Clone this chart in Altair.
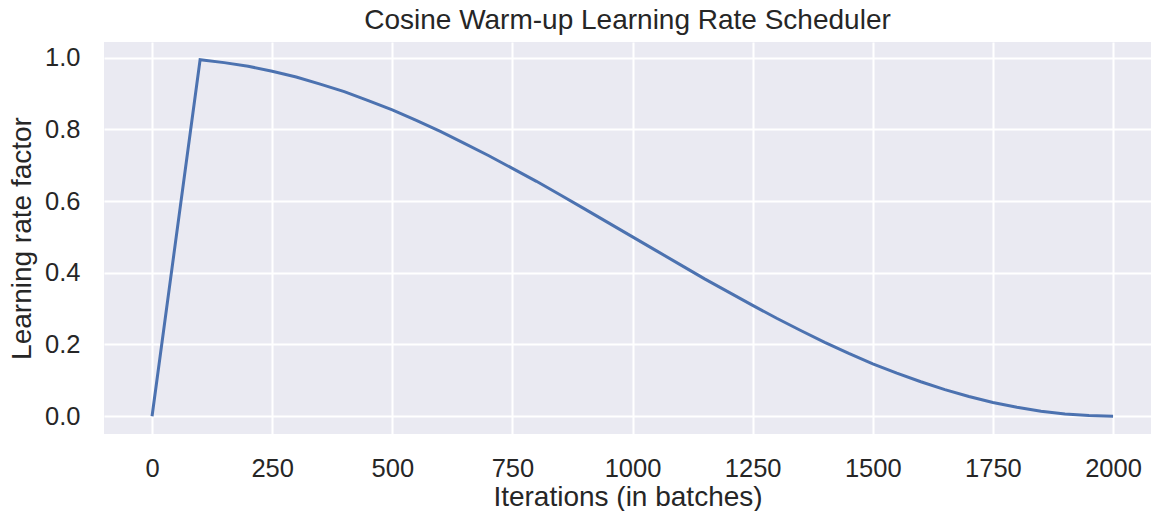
import altair as alt
import pandas as pd

iterations = [0, 100, 150, 200, 250, 300, 350, 400, 450, 500, 550, 600, 650, 700,
              750, 800, 850, 900, 950, 1000, 1050, 1100, 1150, 1200, 1250, 1300,
              1350, 1400, 1450, 1500, 1550, 1600, 1650, 1700, 1750, 1800, 1850,
              1900, 1950, 2000]
lr_factor = [0.0, 0.994, 0.986, 0.976, 0.962, 0.946, 0.926, 0.905, 0.880, 0.854,
             0.825, 0.794, 0.761, 0.727, 0.691, 0.655, 0.617, 0.578, 0.539, 0.500,
             0.461, 0.422, 0.383, 0.346, 0.309, 0.273, 0.239, 0.206, 0.175, 0.146,
             0.120, 0.096, 0.074, 0.055, 0.038, 0.025, 0.014, 0.006, 0.002, 0.0]
x_ticks = [0, 250, 500, 750, 1000, 1250, 1500, 1750, 2000]
y_ticks = [0.0, 0.2, 0.4, 0.6, 0.8, 1.0]

df = pd.DataFrame({"it": iterations, "lr": lr_factor})

FONT = "Liberation Sans"
TXT = "#262626"
PLOT_H = 392

chart = alt.Chart(df).mark_line(color="#4C72B0", strokeWidth=3, clip=True).encode(
    x=alt.X("it:Q", title="Iterations (in batches)",
            scale=alt.Scale(domain=[-100, 2079], nice=False, zero=False),
            axis=alt.Axis(values=x_ticks, format="d", labelPadding=22,
                          titleBaseline="alphabetic", titleY=71, titleAlign="center")),
    y=alt.Y("lr:Q", title="Learning rate factor",
            scale=alt.Scale(domain=[-0.0497, 1.0435], nice=False, zero=False),
            axis=alt.Axis(values=y_ticks, format=".1f", labelPadding=24,
                          titleBaseline="alphabetic", titleAngle=270, titleAlign="center",
                          titleX=-74, titleY=PLOT_H / 2)),
).properties(
    width=1047, height=PLOT_H,
    title=alt.TitleParams("Cosine Warm-up Learning Rate Scheduler", fontSize=28,
                          font=FONT, color=TXT, fontWeight="normal", offset=7,
                          anchor="middle"),
    autosize=alt.AutoSizeParams(type="none"),
    padding={"left": 96, "top": 34, "right": 0, "bottom": 77},
).configure_view(
    fill="#EAEAF2", stroke=None
).configure_axis(
    domain=False, ticks=False, grid=True, gridColor="white", gridWidth=2,
    labelFont=FONT, labelFontSize=25.5, labelColor=TXT,
    titleFont=FONT, titleFontSize=28, titleColor=TXT, titleFontWeight="normal",
)

chart.save("out.html", embed_options={"renderer": "svg", "actions": False})
